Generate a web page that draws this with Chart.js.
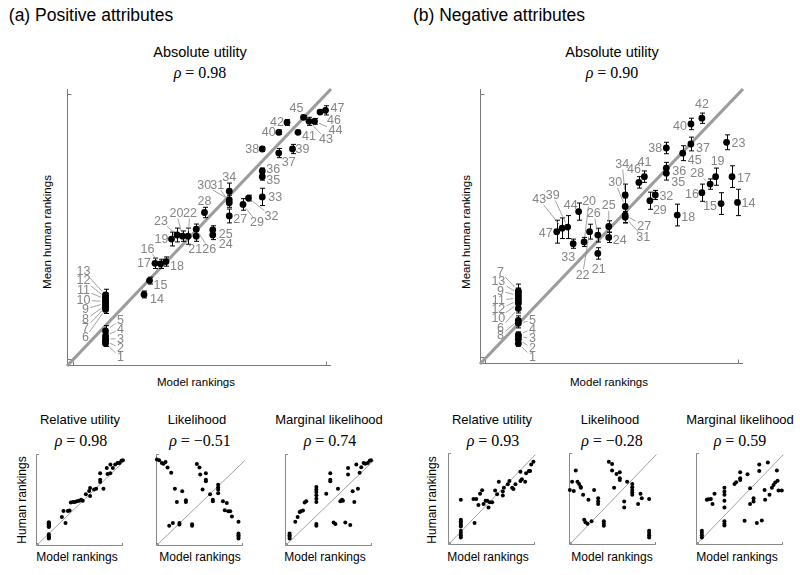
<!DOCTYPE html>
<html><head><meta charset="utf-8">
<script src="https://cdn.jsdelivr.net/npm/chart.js@4.4.0/dist/chart.umd.min.js"></script>
<style>
body{margin:0;background:#fff;}
#wrap{position:relative;width:800px;height:575px;overflow:hidden;font-family:"Liberation Sans",Arial,sans-serif;color:#000;}
.t{position:absolute;white-space:nowrap;transform:translate(-50%,-50%);line-height:1;}
.rot{transform:translate(-50%,-50%) rotate(-90deg);}
.rho{font-family:"Liberation Serif","Times New Roman",serif;font-size:16px;}
canvas{position:absolute;}
</style></head>
<body><div id="wrap">
<div class="t" style="left:91px;top:16px;font-size:17.5px">(a) Positive attributes</div>
<div class="t" style="left:499px;top:16px;font-size:17.5px">(b) Negative attributes</div>
<div class="t" style="left:200px;top:52px;font-size:14.5px">Absolute utility</div>
<div class="t rho" style="left:200px;top:73px"><i>ρ</i> = 0.98</div>
<div class="t" style="left:612px;top:52px;font-size:14.5px">Absolute utility</div>
<div class="t rho" style="left:612px;top:73px"><i>ρ</i> = 0.90</div>
<div class="t rot" style="left:48px;top:232px;font-size:11.5px">Mean human rankings</div>
<div class="t rot" style="left:467px;top:232px;font-size:11.5px">Mean human rankings</div>
<div class="t" style="left:196px;top:383px;font-size:11.5px">Model rankings</div>
<div class="t" style="left:609px;top:383px;font-size:11.5px">Model rankings</div>

<div class="t" style="left:80px;top:419px;font-size:13px">Relative utility</div>
<div class="t" style="left:197px;top:419px;font-size:13px">Likelihood</div>
<div class="t" style="left:329px;top:419px;font-size:13px">Marginal likelihood</div>
<div class="t rho" style="left:81px;top:441px"><i>ρ</i> = 0.98</div>
<div class="t rho" style="left:200px;top:441px"><i>ρ</i> = −0.51</div>
<div class="t rho" style="left:330px;top:441px"><i>ρ</i> = 0.74</div>
<div class="t" style="left:492px;top:419px;font-size:13px">Relative utility</div>
<div class="t" style="left:610px;top:419px;font-size:13px">Likelihood</div>
<div class="t" style="left:740px;top:419px;font-size:13px">Marginal likelihood</div>
<div class="t rho" style="left:493px;top:441px"><i>ρ</i> = 0.93</div>
<div class="t rho" style="left:612px;top:441px"><i>ρ</i> = −0.28</div>
<div class="t rho" style="left:740px;top:441px"><i>ρ</i> = 0.59</div>
<div class="t rot" style="left:22px;top:500px;font-size:12px">Human rankings</div>
<div class="t rot" style="left:432px;top:500px;font-size:12px">Human rankings</div>
<div class="t" style="left:77px;top:557px;font-size:12px">Model rankings</div>
<div class="t" style="left:200px;top:557px;font-size:12px">Model rankings</div>
<div class="t" style="left:325px;top:557px;font-size:12px">Model rankings</div>
<div class="t" style="left:488px;top:557px;font-size:12px">Model rankings</div>
<div class="t" style="left:612px;top:557px;font-size:12px">Model rankings</div>
<div class="t" style="left:737px;top:557px;font-size:12px">Model rankings</div>
</div>
<script>
// ---------- DATA ----------
const items = [1,2,3,4,5,6,7,8,9,10,11,12,13,14,15,16,17,18,19,20,21,22,23,24,25,26,27,28,29,30,31,32,33,34,35,36,37,38,39,40,41,42,43,44,45,46,47];

// (a) Positive attributes, absolute utility
const modelA = [7,7,7,7,7,7,7,7,7,7,7,7,7,14,15,17,16,18,19,21,23.5,22,20,26.5,26.5,23.5,29.5,25,32,29.5,29.5,33,35.5,29.5,35.5,35.5,38.5,35.5,41,38.5,42,40,44,45,43,46,47];
const humanA = [3.9,4.3,4.7,5.2,6.1,9.8,10.2,10.5,10.9,11.2,11.6,11.9,12.3,12.4,14.8,17.7,17.8,18.1,22.0,22.5,22.5,22.5,22.7,22.7,23.6,23.7,26.0,26.6,28.0,28.8,28.3,29.1,29.3,30.3,32.8,33.8,36.9,37.6,37.6,40.5,40.5,42.2,42.4,42.4,43.1,44.0,44.3];
const errA = [0.5,0.4,0.4,0.5,0.9,0.7,0.6,0.6,0.6,0.6,0.6,0.7,1.0,0.6,0.6,0.8,0.9,0.8,1.2,0.9,0.9,1.4,1.2,0.8,0.7,0.9,1.2,0.9,1.0,0.8,0.8,0.5,1.5,1.4,0.6,0.5,0.8,0.4,0.8,0.4,0.3,0.5,0.7,0.5,0.3,0.3,0.8];

// (b) Negative attributes, absolute utility
const modelB = [7,7,7,7,7,7,7,7,7,7,7,7,7,47,44,40.5,46,36,43,19,21.5,20,45,23.5,23.5,21.5,26.5,42,31,26.5,26.5,32,17,26.5,34,34,38.5,34,16,38.5,30,40.5,15,18,37,29,14];
const humanB = [3.6,4.3,4.8,5.1,7.1,9.7,12.75,7.6,11.9,10.6,11.5,11.1,12.35,28.2,28.0,29.9,32.7,26.0,32.7,21.3,19.3,23.1,38.7,22.1,24.0,22.5,26.0,31.4,28.5,27.5,25.6,29.5,21.0,29.5,33.3,34.2,38.4,37.7,23.9,41.9,32.7,42.9,23.7,26.6,36.8,31.7,23.1];
const errB = [0.5,0.5,0.5,0.5,0.8,0.8,1.2,0.8,0.8,0.8,0.8,0.8,0.9,2.3,1.9,1.5,1.9,1.9,1.5,0.8,1.0,1.3,1.3,0.9,1.0,1.2,1.3,0.9,1.5,1.5,1.0,0.8,0.8,1.9,1.2,1.0,1.2,1.0,2.0,1.0,1.0,0.9,1.8,1.5,1.3,1.0,2.0];

// small panels: model rankings (x) and mean human rankings (y)
const relA_x = [7,7,7,7,7,7,7,7,7,7,7,7,7,14.1,15.0,16.1,17.4,18.3,19.0,20.1,21.2,22.3,23.5,24.6,25.5,27.2,29.0,29.5,29.5,31.7,32.8,35.0,35.0,35.0,36.8,38.6,39.0,40.6,40.5,41.9,43.2,44.5,45.5,46.6,47.4];
const relA_y = [3.9,4.3,4.7,5.2,6.1,9.8,10.2,10.5,10.9,11.2,11.6,11.9,12.3,15.0,18.1,11.9,18.1,18.3,22.4,22.7,22.7,23.1,23.3,23.9,23.3,26.7,28.4,29.9,25.8,29.1,29.6,33.0,34.2,37.5,29.6,40.2,37.1,42.1,37.6,40.2,42.1,42.8,42.9,44.0,44.3];
const likA_x = [0.5,1.7,3.2,4.1,5.2,6.3,8.3,10.3,11.4,14.3,16.3,16.3,7.2,9.2,12.8,12.8,19.7,19.7,22.3,23.7,24.1,27.2,27.2,27.2,25.4,29.5,31.0,31.0,33.9,33.9,33.9,33.9,36.5,38.6,37.5,39.4,40.5,41.4,45.0,45.0,45.0,45.0,45.0];
const likA_y = [44.7,44.3,42.8,42.4,43.3,40.5,37.8,29.6,22.7,28.2,23.6,22.7,10.4,11.9,11.9,11.1,11.2,10.4,42.3,40.5,36.9,37.6,34.2,33.4,29.2,26.7,23.9,23.1,31.6,30.2,29.0,27.2,23.1,22.2,18.4,17.9,17.9,15.2,12.5,6.5,5.6,4.8,3.9];
const margA_x = [2.5,2.5,2.5,2.5,5.6,6.9,8.0,8.7,9.8,10.7,11.6,17.1,17.1,17.1,17.1,17.1,17.1,17.1,17.1,22.5,24.7,24.7,24.7,26.5,27.5,28.9,30.2,31.1,31.6,32.9,34.4,34.4,35.6,36.9,37.8,38.9,39.8,40.7,41.6,42.9,43.8,45.1,46.2,46.9];
const margA_y = [6.5,5.6,4.8,3.9,12.5,15.0,17.6,17.9,18.3,22.4,23.1,30.4,29.1,27.9,26.2,24.4,22.7,11.3,10.4,27.0,37.6,34.2,33.4,12.1,11.4,29.6,23.1,23.9,23.3,12.1,40.2,36.9,10.8,28.2,22.7,42.1,29.6,37.8,40.7,42.9,42.4,42.8,44.0,44.3];
const relB_x = [7,7,7,7,7,7,7,7,7,7,14.5,13.9,15.4,16.6,17.5,18.6,19.4,20.5,21.4,22.1,22.8,24.1,25.7,26.8,27.7,29.9,29.9,30.5,32.6,33.5,35.0,35.7,36.8,39.5,39.5,40.3,42.1,42.6,44.1,44.8,45.4,46.6];
const relB_y = [23.3,13.0,12.2,11.3,10.4,9.6,7.4,6.2,5.0,3.9,11.3,23.8,23.8,20.7,26.4,28.3,21.2,22.8,22.9,19.3,22.1,22.1,28.1,26.2,32.7,27.6,25.5,29.6,31.3,33.0,29.6,28.9,31.3,33.0,37.8,33.9,32.7,37.0,38.2,38.2,41.6,43.0];
const likB_x = [0.45,2.6,1.7,3.7,4.6,5.5,6.3,6.5,7.7,10.6,13.7,15.9,15.9,15.9,8.3,9.0,10.1,12.3,19.0,19.0,19.0,21.7,23.5,23.5,24.6,25.9,27.7,27.7,27.7,31.7,30.1,30.1,34.5,34.5,34.5,34.5,34.5,37.7,39.0,39.7,43.7,43.7,43.7,43.7,43.7];
const likB_y = [28.4,27.9,32.7,38.4,32.7,31.5,30.1,29.6,25.9,23.3,28.4,24.1,22.4,21.2,13.0,11.8,11.0,12.2,12.2,11.0,9.9,43.0,41.8,38.4,29.6,36.6,37.5,34.4,33.6,32.7,22.4,19.3,31.5,29.8,28.4,27.1,25.9,21.1,26.4,24.1,23.8,7.4,6.2,5.0,3.9];
const margB_x = [3.2,3.2,3.2,3.2,5.9,6.8,8.1,9.0,10.1,15.5,15.5,15.5,15.5,15.5,15.5,15.5,15.5,21.0,21.9,24.1,24.1,24.1,28.1,26.5,29.5,29.5,31.4,31.4,33.2,35.9,34.5,34.5,37.4,37.7,39.2,40.1,41.4,42.3,43.2,44.1,44.5,45.0,46.8];
const margB_y = [7.4,6.2,5.0,3.9,23.3,23.6,23.8,21.1,26.4,29.6,27.6,25.9,22.8,19.3,12.2,11.0,10.1,31.5,32.4,33.6,34.4,37.5,36.5,12.5,29.3,21.1,22.4,24.1,11.3,12.7,41.6,38.2,28.4,23.3,42.6,25.9,29.6,31.0,32.2,38.4,33.2,28.1,28.1];

// reference lines (data endpoints)
const diagMain = [[0,0],[48,48]];
const diagSmallA = [[0,0],[48.5,44.2]];
const diagSmallB = [[0,0],[47.7,46.7]];

// ---------- LAYOUT (label placement in px relative to marker: dx, dy, leader) ----------
const labelPosA = {
 1:[15,14,1],2:[15,7,1],3:[15,0,1],4:[15,-7,1],5:[15,-11,1],
 6:[-20,28,1],7:[-20,21,1],8:[-20,14,1],9:[-20,6,1],10:[-22,-1,1],11:[-22,-9,1],12:[-22,-17,1],13:[-22,-24,1],
 14:[13,5,0],15:[11,4,0],16:[-13,-15,1],17:[-11,0,0],18:[11,4,0],19:[-10,0,0],20:[-6,-23,1],21:[-1,13,0],22:[2,-23,1],
 23:[-16,-14,1],24:[13,9,1],25:[13,4,1],26:[13,20,1],27:[11,3,0],28:[0,-11,0],29:[14,18,1],30:[-25,-15,1],31:[-12,-18,1],
 32:[23,18,1],33:[13,0,0],34:[0,-14,0],35:[11,3,0],36:[11,-2,0],37:[10,9,0],38:[-10,0,0],39:[10,0,0],40:[-10,0,0],
 41:[11,4,0],42:[-10,0,0],43:[17,18,1],44:[21,9,1],45:[-7,-9,0],46:[14,8,1],47:[12,-2,0]};
const labelPosB = {
 1:[14,14,1],2:[14,9,1],3:[14,2,1],4:[14,-6,1],5:[14,-3,1],
 6:[-18,20,1],7:[-18,-19,1],8:[-18,15,1],9:[-18,-5,1],10:[-20,15,1],11:[-20,2,1],12:[-20,9,1],13:[-20,-12,1],
 14:[11,1,0],15:[-11,2,0],16:[-10,1,0],17:[12,1,0],18:[11,2,0],19:[2,-16,0],20:[5,-41,1],21:[1,16,0],22:[-7,43,1],
 23:[12,1,0],24:[11,3,0],25:[0,-21,1],26:[-4,-22,1],27:[19,11,1],28:[-13,-11,1],29:[10,9,0],30:[-10,-24,1],31:[18,20,1],
 32:[11,1,0],33:[-5,13,0],34:[-3,-31,1],35:[12,9,0],36:[13,3,0],37:[12,4,0],38:[-11,0,0],39:[-15,-32,1],40:[-11,2,0],
 41:[0,-15,0],42:[0,-14,0],43:[-23,-29,1],44:[-8,-7,0],45:[12,7,0],46:[-5,-13,0],47:[-11,1,0]};

// ---------- PLUGINS ----------
const axesPlugin = {
  id: 'rankAxes',
  beforeDatasetsDraw(chart, args, o) {
    const {ctx, scales:{x, y}} = chart;
    const x0 = Math.round(x.getPixelForValue(0)) + 0.5, y0 = Math.round(y.getPixelForValue(0)) - 0.5;
    const xe = x.getPixelForValue(o.end), ye = y.getPixelForValue(o.end);
    ctx.save(); ctx.strokeStyle = o.color; ctx.lineWidth = 1; ctx.beginPath();
    ctx.moveTo(x0, ye); ctx.lineTo(x0, y0); ctx.lineTo(xe, y0);
    o.ticks.forEach(t => {
      const px = Math.round(x.getPixelForValue(t)) + 0.5; ctx.moveTo(px, y0); ctx.lineTo(px, y0 - o.len);
      const py = Math.round(y.getPixelForValue(t)) - 0.5; ctx.moveTo(x0, py); ctx.lineTo(x0 + o.len, py);
    });
    ctx.stroke(); ctx.restore();
  }
};
const errorBarPlugin = {
  id: 'errorBars',
  afterDatasetsDraw(chart, args, o) {
    if (!o.err) return;
    const {ctx, scales:{y}} = chart;
    const meta = chart.getDatasetMeta(o.index), data = chart.data.datasets[o.index].data;
    ctx.save(); ctx.strokeStyle = '#000'; ctx.lineWidth = 1; ctx.beginPath();
    meta.data.forEach((pt, i) => {
      const e = o.err[i], t = y.getPixelForValue(data[i].y + e), b = y.getPixelForValue(data[i].y - e);
      const cx = Math.round(pt.x) + 0.5;
      ctx.moveTo(cx, t); ctx.lineTo(cx, b);
      ctx.moveTo(cx - o.cap, t); ctx.lineTo(cx + o.cap, t);
      ctx.moveTo(cx - o.cap, b); ctx.lineTo(cx + o.cap, b);
    });
    ctx.stroke(); ctx.restore();
  }
};
const labelPlugin = {
  id: 'pointLabels',
  afterDatasetsDraw(chart, args, o) {
    if (!o.pos) return;
    const ctx = chart.ctx, meta = chart.getDatasetMeta(o.index);
    ctx.save();
    ctx.font = '12.5px "Liberation Sans", Arial, sans-serif';
    ctx.textAlign = 'center'; ctx.textBaseline = 'middle';
    ctx.fillStyle = '#858585'; ctx.strokeStyle = '#8a8a8a'; ctx.lineWidth = 0.8;
    meta.data.forEach((pt, i) => {
      const name = String(o.names[i]);
      const [dx, dy, lead] = o.pos[name];
      const cx = pt.x + dx, cy = pt.y + dy + 0.5;
      if (lead) {
        const L = Math.hypot(dx, dy), ux = dx / L, uy = dy / L;
        const hw = ctx.measureText(name).width / 2 + 1.5, hh = 5.5;
        const tEdge = Math.min(ux ? hw / Math.abs(ux) : 1e9, uy ? hh / Math.abs(uy) : 1e9);
        const s = 5;
        if (L - tEdge > s + 1) {
          ctx.beginPath();
          ctx.moveTo(pt.x + ux * s, pt.y + uy * s);
          ctx.lineTo(pt.x + ux * (L - tEdge), pt.y + uy * (L - tEdge));
          ctx.stroke();
        }
      }
      ctx.fillText(name, cx, cy);
    });
    ctx.restore();
  }
};

// ---------- BUILDERS ----------
function makeCanvas(left, top, w, h) {
  const c = document.createElement('canvas');
  c.width = w; c.height = h;
  c.style.left = left + 'px'; c.style.top = top + 'px';
  c.style.width = w + 'px'; c.style.height = h + 'px';
  document.getElementById('wrap').appendChild(c);
  return c;
}
function pts(xs, ys) { return xs.map((v, i) => ({x: v, y: ys[i]})); }
function line(p) { return p.map(q => ({x: q[0], y: q[1]})); }

function mainChart(box, model, human, err, pos, xMax, yMax) {
  const c = makeCanvas(box.left, box.top, box.w, box.h);
  return new Chart(c, {
    type: 'scatter',
    data: { datasets: [
      { data: line(diagMain), showLine: true, borderColor: '#9c9c9c', borderWidth: 3.2, pointRadius: 0, order: 2, clip: false },
      { data: pts(model, human), pointRadius: 3.4, backgroundColor: '#000', borderWidth: 0, order: 1, clip: false }
    ]},
    options: {
      responsive: false, animation: false, devicePixelRatio: 1,
      layout: { padding: box.pad },
      scales: { x: { type: 'linear', min: 0, max: xMax, display: false }, y: { type: 'linear', min: 0, max: yMax, display: false } },
      plugins: {
        legend: { display: false }, tooltip: { enabled: false },
        rankAxes: { end: 48, ticks: [1, 47], len: 4, color: '#7a7a7a' },
        errorBars: { err: err, index: 1, cap: 2.5 },
        pointLabels: { pos: pos, names: items, index: 1 }
      }
    },
    plugins: [axesPlugin, errorBarPlugin, labelPlugin]
  });
}
function smallChart(originX, originY, xs, ys, diag) {
  const left = originX - 6, top = 445, w = 100, h = 106;
  const c = makeCanvas(left, top, w, h);
  return new Chart(c, {
    type: 'scatter',
    data: { datasets: [
      { data: line(diag), showLine: true, borderColor: '#a0a0a0', borderWidth: 1, pointRadius: 0, order: 2, clip: false },
      { data: pts(xs, ys), pointRadius: 2, backgroundColor: '#000', borderWidth: 0, order: 1, clip: false }
    ]},
    options: {
      responsive: false, animation: false, devicePixelRatio: 1,
      layout: { padding: { left: 6, right: 6, top: originY - 93 - top, bottom: top + h - originY } },
      scales: { x: { type: 'linear', min: 0, max: 48, display: false }, y: { type: 'linear', min: 0, max: 48, display: false } },
      plugins: {
        legend: { display: false }, tooltip: { enabled: false },
        rankAxes: { end: 47.3, ticks: [1, 47], len: 2.5, color: '#8a8a8a' }
      }
    },
    plugins: [axesPlugin]
  });
}

mainChart({left: 20, top: 80, w: 340, h: 300, pad: {left: 47, right: 29, top: 9, bottom: 14}}, modelA, humanA, errA, labelPosA, 48, 48);
mainChart({left: 435, top: 80, w: 340, h: 300, pad: {left: 45, right: 32, top: 9, bottom: 16}}, modelB, humanB, errB, labelPosB, 48, 48);

smallChart(36, 546, relA_x, relA_y, diagSmallA);
smallChart(156, 546, likA_x, likA_y, diagSmallA);
smallChart(285, 546, margA_x, margA_y, diagSmallA);
smallChart(448, 545, relB_x, relB_y, diagSmallB);
smallChart(569, 545, likB_x, likB_y, diagSmallB);
smallChart(696, 545, margB_x, margB_y, diagSmallB);
</script>
</body></html>
